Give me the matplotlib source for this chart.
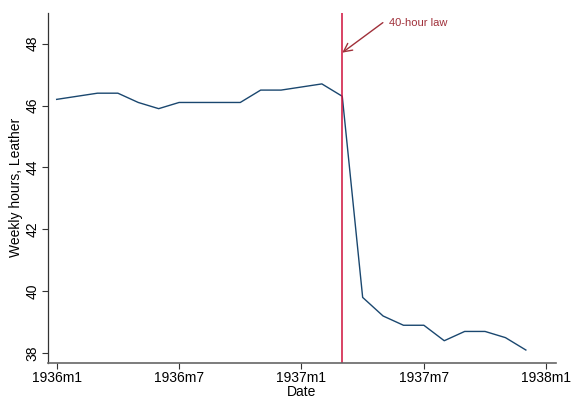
import matplotlib
matplotlib.use("Agg")
import matplotlib.pyplot as plt

plt.rcParams['font.family'] = ['Liberation Sans', 'DejaVu Sans']

months = list(range(24))  # 0 = 1936m1
hours = [46.2, 46.3, 46.4, 46.4, 46.1, 45.9, 46.1, 46.1, 46.1, 46.1, 46.5, 46.5,
         46.6, 46.7, 46.3, 39.8, 39.2, 38.9, 38.9, 38.4, 38.7, 38.7, 38.5, 38.1]
xtick_pos = [0, 6, 12, 18, 24]
xtick_labels = ["1936m1", "1936m7", "1937m1", "1937m7", "1938m1"]
ytick_pos = [38, 40, 42, 44, 46, 48]
law_month = 14  # 1937m3

fig = plt.figure(figsize=(5.74, 3.98), dpi=100)
ax = fig.add_axes([0.0831, 0.0887, 0.968 - 0.0831, 0.968 - 0.0887])

ax.plot(months, hours, color='#1a476f', lw=1.0)
ax.axvline(law_month, color='#d0103a', lw=1.1)

ax.set_xlim(-0.44, 24.46)
ax.set_ylim(37.69, 49.0)
ax.set_xticks(xtick_pos)
ax.set_xticklabels(xtick_labels, fontsize=10)
ax.set_yticks(ytick_pos)
ax.set_yticklabels([str(v) for v in ytick_pos], fontsize=10, rotation=90, va='center')
ax.tick_params(length=4, width=0.8, color='#333333', pad=2)

for s in ['top', 'right']:
    ax.spines[s].set_visible(False)
ax.spines['left'].set_color('#333333')
ax.spines['bottom'].set_color('#666666')
ax.spines['left'].set_linewidth(0.9)
ax.spines['bottom'].set_linewidth(1.2)

ax.set_xlabel("Date", fontsize=10, labelpad=0)
ax.set_ylabel("Weekly hours, Leather", fontsize=10, labelpad=2)

ax.text(16.3, 48.66, "40-hour law", color='#a0303a', fontsize=8, va='center', ha='left')
ax.annotate("", xy=(law_month, 47.71), xytext=(15.99, 48.68),
            arrowprops=dict(arrowstyle='->,head_length=0.6,head_width=0.3',
                            color='#a0303a', lw=1.0, shrinkA=0, shrinkB=0))

fig.savefig("out.png", dpi=100)
